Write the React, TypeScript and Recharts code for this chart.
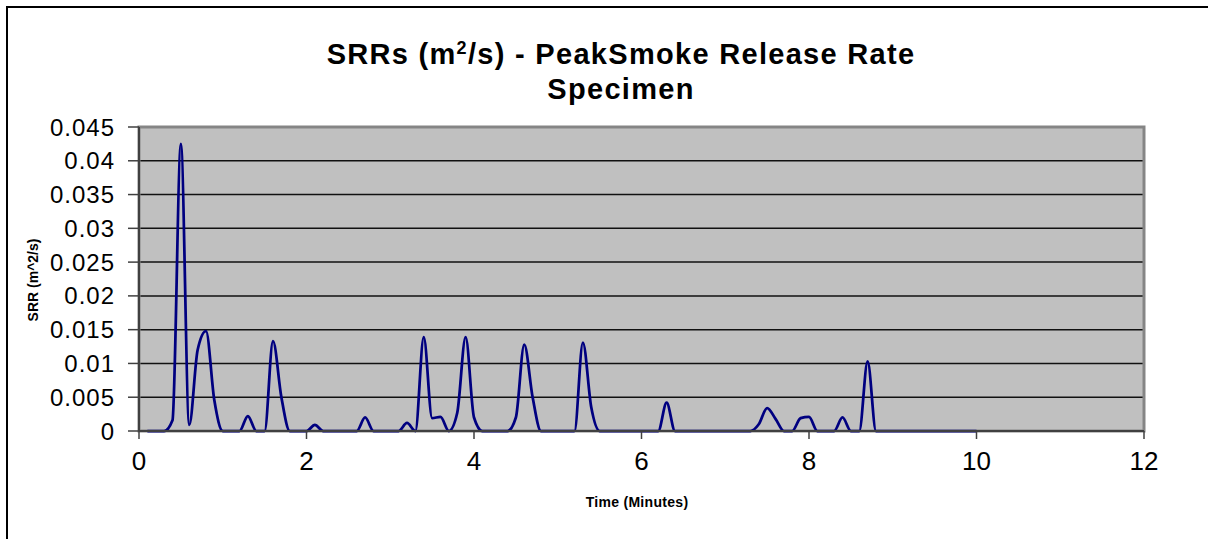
import { LineChart, Line, XAxis, YAxis, CartesianGrid, ReferenceArea } from "recharts"

// time in minutes, smoke release rate in m^2/s
const times = [
  0.1, 0.3, 0.4, 0.5, 0.6, 0.7, 0.8, 0.9, 1.0, 1.2, 1.3, 1.4, 1.5, 1.6, 1.7, 1.8,
  2.0, 2.1, 2.2, 2.6, 2.7, 2.8, 3.1, 3.2, 3.3, 3.4, 3.5, 3.6, 3.7, 3.8, 3.9, 4.0,
  4.1, 4.4, 4.5, 4.6, 4.7, 4.8, 5.2, 5.3, 5.4, 5.5, 6.2, 6.3, 6.4, 7.3, 7.4, 7.5,
  7.6, 7.7, 7.8, 7.9, 8.0, 8.1, 8.3, 8.4, 8.5, 8.6, 8.7, 8.8, 10.0,
]
const srr = [
  0, 0, 0.0016, 0.0425, 0.0009, 0.012, 0.0148, 0.0045, 0, 0, 0.0022, 0, 0, 0.0133, 0.005, 0,
  0, 0.0009, 0, 0, 0.002, 0, 0, 0.0012, 0, 0.0139, 0.0019, 0.0021, 0, 0.0027, 0.0139, 0.002,
  0, 0, 0.002, 0.0128, 0.005, 0, 0, 0.0131, 0.0035, 0, 0, 0.0042, 0, 0, 0.001, 0.0034,
  0.0018, 0, 0, 0.0019, 0.0021, 0, 0, 0.002, 0, 0, 0.0103, 0, 0,
]
const xTicks = [0, 2, 4, 6, 8, 10, 12]
const yTicks = [0, 0.005, 0.01, 0.015, 0.02, 0.025, 0.03, 0.035, 0.04, 0.045]

const data = times.map((t, i) => ({ t, srr: srr[i] }))

const font = "'Liberation Sans', Arial, sans-serif"

export default function App() {
  return (
    <div
      style={{
        position: "absolute",
        left: 0,
        top: 0,
        width: 1208,
        height: 539,
        overflow: "hidden",
        background: "#fff",
        fontFamily: font,
      }}
    >
      <div
        style={{
          position: "absolute",
          left: 6,
          top: 6,
          width: 1300,
          height: 700,
          border: "2px solid #000",
        }}
      />
      <div
        style={{
          position: "absolute",
          left: 0,
          width: 1242,
          top: 31,
          textAlign: "center",
          fontWeight: "bold",
          fontSize: 29,
          lineHeight: "35px",
          letterSpacing: 1.3,
          color: "#000",
        }}
      >
        <div>
          SRRs (m<span style={{ fontSize: 18, verticalAlign: "10px" }}>2</span>/s) - PeakSmoke Release Rate
        </div>
        <div>Specimen</div>
      </div>
      <div
        style={{
          position: "absolute",
          left: 33,
          top: 280,
          transform: "translate(-50%, -50%) rotate(-90deg)",
          whiteSpace: "nowrap",
          fontWeight: "bold",
          fontSize: 14,
        }}
      >
        SRR (m^2/s)
      </div>
      <div
        style={{
          position: "absolute",
          left: 637,
          top: 502,
          transform: "translate(-50%, -50%)",
          whiteSpace: "nowrap",
          fontWeight: "bold",
          fontSize: 14,
          letterSpacing: 0.3,
        }}
      >
        Time (Minutes)
      </div>
      <div style={{ position: "absolute", left: 0, top: 0 }}>
        <LineChart
          width={1208}
          height={539}
          data={data}
          margin={{ top: 127, right: 64, bottom: 48, left: 39 }}
        >
          <CartesianGrid
            vertical={false}
            fill="#c0c0c0"
            fillOpacity={1}
            stroke="#111"
            strokeWidth={1.5}
          />
          <ReferenceArea
            x1={0}
            x2={12}
            y1={0}
            y2={0.045}
            fill="none"
            stroke="#858585"
            strokeWidth={3}
          />
          <XAxis
            dataKey="t"
            type="number"
            domain={[0, 12]}
            ticks={xTicks}
            interval={0}
            height={60}
            tickSize={8}
            tickMargin={13}
            axisLine={{ stroke: "#404040", strokeWidth: 2 }}
            tickLine={{ stroke: "#404040", strokeWidth: 1.5 }}
            tick={{ fill: "#000", fontSize: 26, fontFamily: font }}
          />
          <YAxis
            type="number"
            domain={[0, 0.045]}
            ticks={yTicks}
            interval={0}
            width={100}
            tickSize={11}
            tickMargin={13}
            axisLine={{ stroke: "#404040", strokeWidth: 2 }}
            tickLine={{ stroke: "#404040", strokeWidth: 1.5 }}
            tick={{ fill: "#000", fontSize: 24, fontFamily: font, letterSpacing: 1 }}
          />
          <Line
            type="monotone"
            dataKey="srr"
            stroke="#000080"
            strokeWidth={2.75}
            dot={false}
            activeDot={false}
            isAnimationActive={false}
          />
        </LineChart>
      </div>
    </div>
  )
}
